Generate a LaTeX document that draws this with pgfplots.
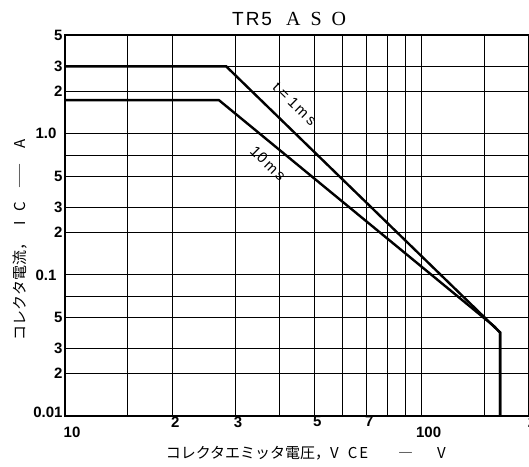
\documentclass[border=0pt]{standalone}
\usepackage{graphicx}
\usepackage{pgfplots}
\pgfplotsset{compat=1.18}
\usepackage{fontspec}
\setmainfont{Liberation Sans}
\newfontfamily\cjk{Noto Sans CJK JP}
\newfontfamily\serifx{Liberation Serif}
\begin{document}
\begin{tikzpicture}
\begin{axis}[
  xmode=log, ymode=log,
  scale only axis, width=464pt, height=381pt,
  xmin=10, xmax=200, ymin=0.01, ymax=5,
  axis line style={line width=1.4pt},
  grid=major, major grid style={black, line width=0.9pt},
  major tick length=0pt, minor tick length=0pt,
  minor xtick={}, minor ytick={},
  xtick={10,15,20,30,40,50,60,70,80,90,100,150,200},
  xticklabels={,,2,3,,5,,7,,,,,2},
  xticklabel style={font=\fontsize{15}{17}\selectfont\bfseries, xshift=3pt, yshift=3pt},
  ytick={0.01,0.02,0.03,0.05,0.07,0.1,0.2,0.3,0.5,0.7,1,2,3,5},
  yticklabels={{0.01\rule[-7pt]{0pt}{7pt}},2,3,5,,,2,3,5,,,2,3,5},
  yticklabel style={font=\fontsize{15}{17}\selectfont\bfseries, xshift=1pt},
  extra x ticks={10,100}, extra x tick labels={10,100},
  extra x tick style={grid=none, xticklabel style={yshift=-10pt, xshift=4pt}},
  extra y ticks={0.1,1}, extra y tick labels={0.1,1.0},
  extra y tick style={grid=none, yticklabel style={xshift=-6pt}},
  xlabel={\cjk\fontsize{15}{17}\selectfont コレクタエミッタ電圧，V\hspace{9pt}C\hspace{2pt}E\hspace{30pt}―\hspace{24pt}V},
  xlabel style={at={(rel axis cs:0.519,-0.097)}, anchor=center},
  ylabel={\cjk\fontsize{15}{17}\selectfont コレクタ電流，\hspace{10pt}I\hspace{10pt}C\hspace{12pt}\scalebox{1.8}[1]{―}\hspace{14pt}A},
  ylabel style={at={(rel axis cs:-0.097,0.462)}, anchor=center},
  clip=false,
]
\addplot[black, line width=2.4pt, line join=miter] coordinates {(10,3) (28.3,3) (166,0.039) (166,0.01)};
\addplot[black, line width=2.4pt, line join=miter] coordinates {(10,1.73) (27,1.73) (160,0.043) (166,0.039) (166,0.01)};
\node[rotate=-44.3, font=\fontsize{15}{17}\selectfont] at (axis cs:44.1,1.62) {t\hspace{4pt}=\hspace{4pt}1\hspace{2pt}m\hspace{3pt}s};
\node[rotate=-44.3, font=\fontsize{15}{17}\selectfont] at (axis cs:37.1,0.614) {1\hspace{1pt}0\hspace{2pt}m\hspace{3pt}s};
\node[font=\fontsize{19}{21}\selectfont] at (rel axis cs:0.483,1.041) {T\hspace{2pt}R\hspace{2pt}5\hspace{14pt}{\serifx\fontsize{20}{22}\selectfont A\hspace{10pt}S\hspace{10pt}O}};
\coordinate (O) at (rel axis cs:0,0);
\end{axis}
\pgfresetboundingbox
\path[use as bounding box] ([shift={(-65pt,-50pt)}]O) rectangle ++(529pt,466pt);
\end{tikzpicture}
\end{document}
